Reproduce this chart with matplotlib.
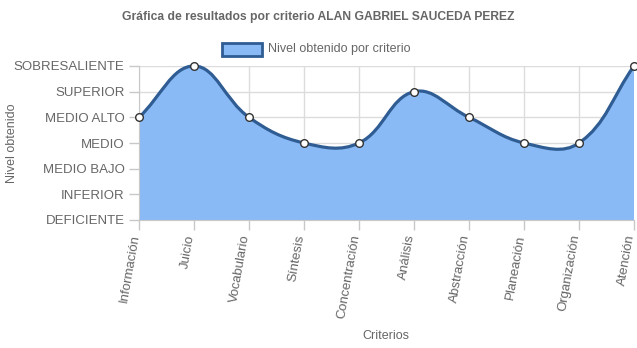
import numpy as np
import matplotlib.pyplot as plt
from matplotlib.path import Path
from matplotlib.patches import PathPatch

criterios = ['Información', 'Juicio', 'Vocabulario', 'Síntesis', 'Concentración',
             'Análisis', 'Abstracción', 'Planeación', 'Organización', 'Atención']
niveles = ['DEFICIENTE', 'INFERIOR', 'MEDIO BAJO', 'MEDIO', 'MEDIO ALTO',
           'SUPERIOR', 'SOBRESALIENTE']
valores = [4, 6, 4, 3, 3, 5, 4, 3, 3, 6]

plt.rcParams['font.family'] = ['Liberation Sans', 'DejaVu Sans']
gris = '#666666'
linea = '#2f5d93'
relleno = '#8abaf5'


def spline_path(ax, xs, ys, tension=0.4):
    # control points like Chart.js, computed in pixel space
    pts = ax.transData.transform(np.column_stack([xs, ys]))
    n = len(pts)
    cps = []
    for i in range(n):
        prev = pts[max(i - 1, 0)]
        cur = pts[i]
        nxt = pts[min(i + 1, n - 1)]
        d01 = np.hypot(*(cur - prev))
        d12 = np.hypot(*(nxt - cur))
        tot = d01 + d12
        s01 = d01 / tot if tot else 0
        s12 = d12 / tot if tot else 0
        cps.append((cur - tension * s01 * (nxt - prev), cur + tension * s12 * (nxt - prev)))
    inv = ax.transData.inverted()
    verts = [pts[0]]
    codes = [Path.MOVETO]
    for i in range(n - 1):
        verts += [cps[i][1], cps[i + 1][0], pts[i + 1]]
        codes += [Path.CURVE4] * 3
    return inv.transform(np.array(verts)), codes


fig = plt.figure(figsize=(6.37, 3.48), dpi=100)
ax = fig.add_axes([139 / 637, 1 - 220 / 348, 495 / 637, 154 / 348])
x = np.arange(len(criterios))
ax.set_xlim(0, len(criterios) - 1)
ax.set_ylim(0, len(niveles) - 1)

verts, codes = spline_path(ax, x, valores)
ax.add_patch(PathPatch(Path(verts, codes), fill=False, edgecolor=linea, lw=2.3, zorder=3, clip_on=False))
fill_verts = np.vstack([verts, [[x[-1], 0], [x[0], 0], verts[0]]])
fill_codes = codes + [Path.LINETO, Path.LINETO, Path.CLOSEPOLY]
ax.add_patch(PathPatch(Path(fill_verts, fill_codes), facecolor=relleno, edgecolor='none', zorder=1))
ax.plot(x, valores, 'o', ms=5.5, mfc='white', mec='#333333', mew=1, zorder=4, clip_on=False)

ax.set_xticks(x)
ax.set_xticklabels(criterios, rotation=80, ha='right', va='baseline', rotation_mode='anchor')
ax.set_yticks(range(len(niveles)))
ax.set_yticklabels(niveles)
ax.tick_params(colors='#c8c8c8', labelcolor=gris, labelsize=9.5, length=7, width=1)
ax.tick_params(axis='x', pad=4)
ax.grid(True, color='#dcdcdc', lw=1, zorder=0)
ax.set_axisbelow(True)
for s in ['top', 'right']:
    ax.spines[s].set_visible(False)
for s in ['left', 'bottom']:
    ax.spines[s].set_color('#c8c8c8')

fig.text(318 / 637, 1 - 17 / 348, 'Gráfica de resultados por criterio ALAN GABRIEL SAUCEDA PEREZ',
         ha='center', va='center', fontsize=8.7, fontweight='bold', color=gris)
fig.text(12 / 637, 1 - 143 / 348, 'Nivel obtenido', rotation=90, ha='center', va='center',
         fontsize=9, color=gris)
fig.text(386 / 637, 1 - 336 / 348, 'Criterios', ha='center', va='center', fontsize=9, color=gris)

# legend
fig.patches.append(plt.Rectangle((222 / 637, 1 - 56 / 348), 40 / 637, 13 / 348,
                                 transform=fig.transFigure, facecolor=relleno,
                                 edgecolor=linea, lw=2))
fig.text(268 / 637, 1 - 49 / 348, 'Nivel obtenido por criterio', ha='left', va='center',
         fontsize=9, color=gris)

plt.savefig('out.png', dpi=100)
